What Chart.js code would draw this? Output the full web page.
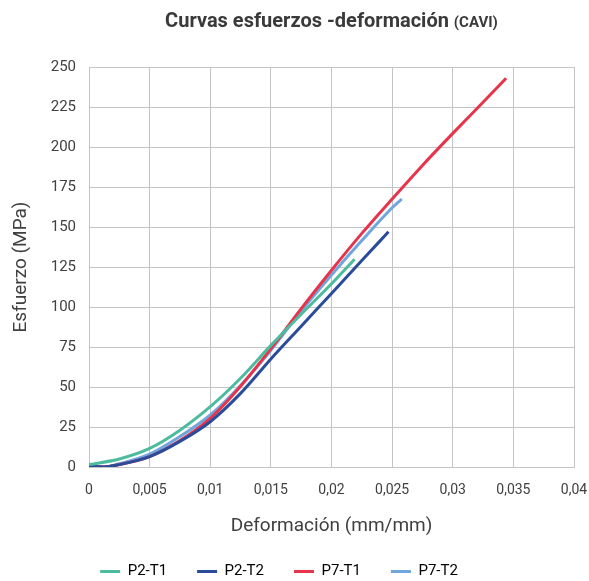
<!DOCTYPE html>
<html>
<head>
<meta charset="utf-8">
<script src="https://cdn.jsdelivr.net/npm/chart.js@4.4.1/dist/chart.umd.min.js"></script>
<style>
  html, body { margin: 0; padding: 0; background: #ffffff; }
</style>
</head>
<body>
<canvas id="chart" width="589" height="581"></canvas>
<script>
// Stress-strain test curves (strain in mm/mm, stress in MPa)
const seriesNames = ['P2-T1', 'P2-T2', 'P7-T1', 'P7-T2'];

const strainP2T1 = [0, 0.0025, 0.005, 0.0075, 0.01, 0.0125, 0.015, 0.0175, 0.02, 0.0219];
const stressP2T1 = [1.5, 5, 11.6, 23, 37.7, 55.5, 76, 95.5, 114.5, 129.8];

const strainP2T2 = [0, 0.0012, 0.0025, 0.005, 0.0075, 0.01, 0.0125, 0.015, 0.0175, 0.02, 0.0225, 0.0247];
const stressP2T2 = [0.5, 0, 1.5, 6.5, 16, 28.3, 46, 67.5, 88, 108.5, 129, 147];

const strainP7T1 = [0, 0.0012, 0.0025, 0.005, 0.0075, 0.01, 0.0125, 0.015, 0.0175, 0.02, 0.0225, 0.025, 0.0275, 0.03, 0.0325, 0.0344];
const stressP7T1 = [0.5, 0, 1.5, 6.5, 16.5, 30.4, 50.5, 74, 99, 123, 146, 167.5, 188.5, 208.5, 228, 243];

const strainP7T2 = [0, 0.0012, 0.0025, 0.005, 0.0075, 0.01, 0.0125, 0.015, 0.0175, 0.02, 0.0225, 0.025, 0.0258];
const stressP7T2 = [0.5, 0, 2, 8, 19, 32.5, 51, 73, 97.5, 120, 141.5, 162, 167.5];

const xTicks = [0, 0.005, 0.01, 0.015, 0.02, 0.025, 0.03, 0.035, 0.04];
const xTickLabels = ['0', '0,005', '0,01', '0,015', '0,02', '0,025', '0,03', '0,035', '0,04'];
const yTicks = [0, 25, 50, 75, 100, 125, 150, 175, 200, 225, 250];
const yTickLabels = ['0', '25', '50', '75', '100', '125', '150', '175', '200', '225', '250'];

const chartTitle = 'Curvas esfuerzos -deformación ';
const chartTitleTag = '(CAVI)';
const xAxisTitle = 'Deformación (mm/mm)';
const yAxisTitle = 'Esfuerzo (MPa)';

const lineColors = ['#4dbb9e', '#2b4c9b', '#e8344b', '#70a5de'];
const FONT = "'Roboto', 'Liberation Sans', sans-serif";
const TEXT = '#404040';
const GRID = '#c4c4c4';

function pairs(xs, ys) { return xs.map((x, i) => ({ x: x, y: ys[i] })); }

const seriesData = [
  pairs(strainP2T1, stressP2T1),
  pairs(strainP2T2, stressP2T2),
  pairs(strainP7T1, stressP7T1),
  pairs(strainP7T2, stressP7T2)
];

// Title with a smaller trailing tag, centred over the plot area
const titlePlugin = {
  id: 'mixedTitle',
  afterDraw(chart) {
    const ctx = chart.ctx;
    const area = chart.chartArea;
    ctx.save();
    ctx.fillStyle = '#3a3a3a';
    ctx.textBaseline = 'alphabetic';
    const mainFont = "bold 20px " + FONT;
    const tagFont = "bold 15px " + FONT;
    ctx.font = mainFont;
    const w1 = ctx.measureText(chartTitle).width;
    ctx.font = tagFont;
    const w2 = ctx.measureText(chartTitleTag).width;
    const cx = (area.left + area.right) / 2;
    const x0 = cx - (w1 + w2) / 2;
    const base = 27;
    ctx.font = mainFont;
    ctx.textAlign = 'left';
    ctx.fillText(chartTitle, x0, base);
    ctx.font = tagFont;
    ctx.fillText(chartTitleTag, x0 + w1, base);
    ctx.restore();
  }
};

// Nudge the legend row slightly left of the canvas centre
const legendShift = {
  id: 'legendShift',
  afterLayout(chart) {
    if (chart.legend) {
      chart.legend.left -= 8;
      chart.legend.right -= 8;
    }
  }
};

new Chart(document.getElementById('chart'), {
  type: 'scatter',
  data: {
    datasets: seriesData.map((d, i) => ({
      label: seriesNames[i],
      data: d,
      showLine: true,
      borderColor: lineColors[i],
      backgroundColor: lineColors[i],
      borderWidth: 3,
      pointRadius: 0,
      pointHoverRadius: 0,
      cubicInterpolationMode: 'monotone',
      fill: false
    }))
  },
  options: {
    responsive: false,
    animation: false,
    events: [],
    layout: { padding: { top: 67, right: 15, left: 0, bottom: 0 } },
    plugins: {
      title: { display: false },
      tooltip: { enabled: false },
      legend: {
        position: 'bottom',
        maxHeight: 47,
        labels: {
          boxWidth: 20,
          boxHeight: 3,
          padding: 30,
          color: TEXT,
          font: { family: FONT, size: 15 },
          generateLabels(chart) {
            return chart.data.datasets.map((ds, i) => ({
              text: ds.label,
              fillStyle: ds.borderColor,
              strokeStyle: ds.borderColor,
              lineWidth: 0,
              hidden: false,
              datasetIndex: i
            }));
          }
        }
      }
    },
    scales: {
      x: {
        type: 'linear',
        min: 0,
        max: 0.04,
        afterBuildTicks(scale) { scale.ticks = xTicks.map(v => ({ value: v })); },
        afterFit(scale) {
          scale.height = 67;
          scale.paddingLeft = 0;
          scale.paddingRight = 15;
        },
        ticks: {
          padding: 15,
          color: TEXT,
          font: { family: FONT, size: 14 },
          maxRotation: 0,
          callback: (v, i) => xTickLabels[i]
        },
        grid: { color: GRID, drawTicks: false },
        border: { color: GRID },
        title: {
          display: true,
          text: xAxisTitle,
          color: TEXT,
          font: { family: FONT, size: 19 },
          padding: { top: 0, bottom: -4 }
        }
      },
      y: {
        type: 'linear',
        min: 0,
        max: 250,
        afterBuildTicks(scale) { scale.ticks = yTicks.map(v => ({ value: v })); },
        afterFit(scale) { scale.width = 89; },
        ticks: {
          padding: 13,
          color: TEXT,
          font: { family: FONT, size: 15 },
          callback: (v, i) => yTickLabels[i]
        },
        grid: { color: GRID, drawTicks: false },
        border: { color: GRID },
        title: {
          display: true,
          text: yAxisTitle,
          color: TEXT,
          font: { family: FONT, size: 19 },
          padding: { top: 10, bottom: 0 }
        }
      }
    }
  },
  plugins: [titlePlugin, legendShift]
});
</script>
</body>
</html>
